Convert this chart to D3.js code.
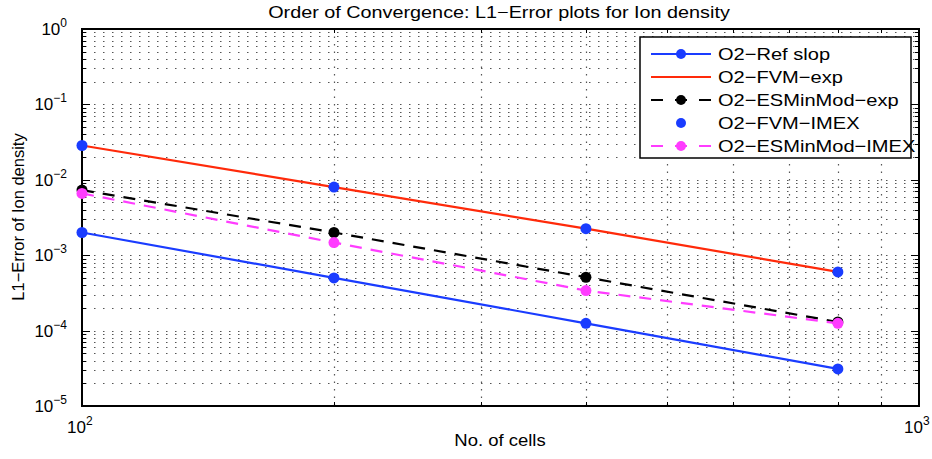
<!DOCTYPE html>
<html lang="en">
<head>
<meta charset="utf-8">
<script src="https://d3js.org/d3.v7.min.js"></script>
<style>
  body { margin: 0; background: #fff; }
  text { font-family: "Liberation Sans", Arial, sans-serif; }
</style>
</head>
<body>
<script>
// data
var cells = [100, 200, 400, 800];
var refSlop = [2.0e-3, 5.0e-4, 1.25e-4, 3.1e-5];
var fvmExp = [2.85e-2, 8.0e-3, 2.25e-3, 6.0e-4];
var esExp = [7.3e-3, 2.0e-3, 5.1e-4, 1.3e-4];
var fvmImex = [2.85e-2, 8.0e-3, 2.25e-3, 6.0e-4];
var esImex = [6.6e-3, 1.47e-3, 3.4e-4, 1.25e-4];
var seriesNames = ["O2\u2212Ref slop", "O2\u2212FVM\u2212exp", "O2\u2212ESMinMod\u2212exp", "O2\u2212FVM\u2212IMEX", "O2\u2212ESMinMod\u2212IMEX"];
var xDecades = [2, 3];
var yDecades = [0, -1, -2, -3, -4, -5];

var w = 932, h = 459;
var pLeft = 82, pRight = 919, pTop = 29, pBottom = 406;

var svg = d3.select("body").append("svg").attr("width", w).attr("height", h);

var x = d3.scaleLog().domain([100, 1000]).range([pLeft, pRight]);
var y = d3.scaleLog().domain([1e-5, 1]).range([pBottom, pTop]);

// the original figure was stretched sideways, widen text to match
function stretch(sel, f) {
  sel.each(function() {
    var len = this.getComputedTextLength();
    d3.select(this).attr("textLength", len * f).attr("lengthAdjust", "spacingAndGlyphs");
  });
}

// grid lines (dotted) at all major/minor positions
var xGrid = [];
for (var k = 1; k <= 10; k++) xGrid.push(100 * k);
var yGrid = [];
for (var e = -5; e < 0; e++) for (var m = 1; m <= 9; m++) yGrid.push(m * Math.pow(10, e));
yGrid.push(1);

var grid = svg.append("g");
grid.selectAll(".gx").data(xGrid.slice(1, -1)).enter().append("line")
  .attr("x1", function(d) { return Math.round(x(d)) + 0.5; })
  .attr("x2", function(d) { return Math.round(x(d)) + 0.5; })
  .attr("y1", pTop).attr("y2", pBottom)
  .attr("stroke", "#555").attr("stroke-width", 1.2).attr("stroke-dasharray", "1.5,6");
grid.selectAll(".gy").data(yGrid.slice(1, -1)).enter().append("line")
  .attr("y1", function(d) { return Math.round(y(d)) + 0.5; })
  .attr("y2", function(d) { return Math.round(y(d)) + 0.5; })
  .attr("x1", pLeft + 3).attr("x2", pRight)
  .attr("stroke", "#555").attr("stroke-width", 1.2).attr("stroke-dasharray", "1.5,7.5");

// ticks on all four sides, pointing inward
var ticks = svg.append("g").attr("stroke", "#000").attr("stroke-width", 1);
xGrid.forEach(function(d) {
  var len = (d === 100 || d === 1000) ? 8 : 4;
  var px = Math.round(x(d)) + 0.5;
  ticks.append("line").attr("x1", px).attr("x2", px).attr("y1", pBottom).attr("y2", pBottom - len);
  ticks.append("line").attr("x1", px).attr("x2", px).attr("y1", pTop).attr("y2", pTop + len);
});
yGrid.forEach(function(d) {
  var major = Math.abs(Math.log10(d) - Math.round(Math.log10(d))) < 1e-9;
  var len = major ? 8 : 4;
  var py = Math.round(y(d)) + 0.5;
  ticks.append("line").attr("y1", py).attr("y2", py).attr("x1", pLeft).attr("x2", pLeft + len);
  ticks.append("line").attr("y1", py).attr("y2", py).attr("x1", pRight).attr("x2", pRight - len);
});

// box
svg.append("rect").attr("x", pLeft).attr("y", pTop).attr("width", pRight - pLeft).attr("height", pBottom - pTop)
  .attr("fill", "none").attr("stroke", "#000").attr("stroke-width", 2);

// tick labels
var yl = svg.append("g");
yDecades.forEach(function(p) {
  var t = yl.append("text").attr("x", pLeft - 15).attr("y", y(Math.pow(10, p)) + 6)
    .attr("text-anchor", "end").attr("font-size", 17);
  t.append("tspan").text("10");
  t.append("tspan").attr("font-size", 12).attr("dy", -8).text(p === 0 ? "0" : "\u2212" + Math.abs(p));
});
xDecades.forEach(function(p) {
  var t = svg.append("text").attr("x", x(Math.pow(10, p)) - 15).attr("y", 433)
    .attr("font-size", 17);
  t.append("tspan").text("10");
  t.append("tspan").attr("font-size", 12).attr("dy", -8).text(p);
});

// titles
svg.append("text").attr("x", 499).attr("y", 18).attr("text-anchor", "middle")
  .attr("font-size", 16.5).text("Order of Convergence: L1\u2212Error plots for Ion density")
  .call(stretch, 1.2);
svg.append("text").attr("x", 500).attr("y", 446).attr("text-anchor", "middle")
  .attr("font-size", 16.5).text("No. of cells")
  .call(stretch, 1.12);
svg.append("text").attr("transform", "translate(24,217) rotate(-90)")
  .attr("text-anchor", "middle").attr("font-size", 16.5).text("L1\u2212Error of Ion density");

// series
var blue = "#1a3cff", red = "#ff2a0a", black = "#000", magenta = "#ff3cff";
var line = d3.line().x(function(d) { return x(d[0]); }).y(function(d) { return y(d[1]); });
function pts(vals) { return cells.map(function(c, i) { return [c, vals[i]]; }); }

var plot = svg.append("g");
var series = [
  { vals: fvmExp, color: red, dash: null, line: true, marker: false },
  { vals: esExp, color: black, dash: "12,9", line: true, marker: true },
  { vals: esImex, color: magenta, dash: "12,9", line: true, marker: true },
  { vals: refSlop, color: blue, dash: null, line: true, marker: true },
  { vals: fvmImex, color: blue, dash: null, line: false, marker: true }
];
series.forEach(function(s) {
  if (s.line) {
    plot.append("path").attr("d", line(pts(s.vals))).attr("fill", "none")
      .attr("stroke", s.color).attr("stroke-width", 2.2)
      .attr("stroke-dasharray", s.dash);
  }
  if (s.marker) {
    plot.selectAll(null).data(pts(s.vals)).enter().append("circle")
      .attr("cx", function(d) { return x(d[0]); })
      .attr("cy", function(d) { return y(d[1]); })
      .attr("r", 5.5).attr("fill", s.color);
  }
});

// legend
var lg = svg.append("g");
lg.append("rect").attr("x", 640).attr("y", 37).attr("width", 271).attr("height", 121)
  .attr("fill", "#fff").attr("stroke", "#000").attr("stroke-width", 1.5);
var legendStyle = [
  { color: blue, dash: null, line: true, marker: true },
  { color: red, dash: null, line: true, marker: false },
  { color: black, dash: "12,12", line: true, marker: true },
  { color: blue, dash: null, line: false, marker: true },
  { color: magenta, dash: "12,12", line: true, marker: true }
];
seriesNames.forEach(function(name, i) {
  var ly = 54 + i * 23;
  var st = legendStyle[i];
  if (st.line) {
    lg.append("line").attr("x1", 651).attr("x2", 711).attr("y1", ly).attr("y2", ly)
      .attr("stroke", st.color).attr("stroke-width", 2.2).attr("stroke-dasharray", st.dash);
  }
  if (st.marker) {
    lg.append("circle").attr("cx", 681).attr("cy", ly).attr("r", 5).attr("fill", st.color);
  }
  lg.append("text").attr("x", 718).attr("y", ly + 6).attr("font-size", 17).text(name)
    .call(stretch, 1.18);
});
</script>
</body>
</html>
